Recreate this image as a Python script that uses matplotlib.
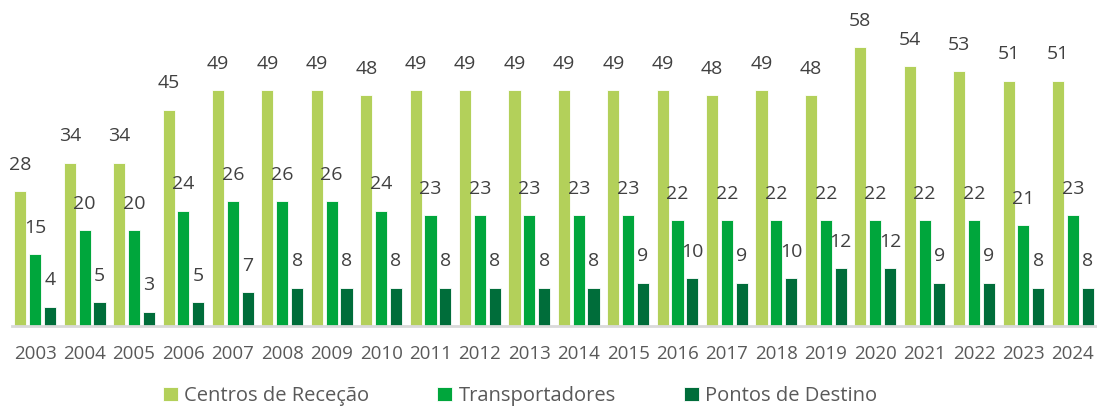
import matplotlib
matplotlib.use('Agg')
import matplotlib.pyplot as plt
import numpy as np

years = [str(y) for y in range(2003, 2025)]
centros = [28, 34, 34, 45, 49, 49, 49, 48, 49, 49, 49, 49, 49, 49, 48, 49, 48, 58, 54, 53, 51, 51]
transportadores = [15, 20, 20, 24, 26, 26, 26, 24, 23, 23, 23, 23, 23, 22, 22, 22, 22, 22, 22, 22, 21, 23]
destino = [4, 5, 3, 5, 7, 8, 8, 8, 8, 8, 8, 8, 9, 10, 9, 10, 12, 12, 9, 9, 8, 8]

series = [
    ('Centros de Receção', centros, '#b3d05a'),
    ('Transportadores', transportadores, '#00a63c'),
    ('Pontos de Destino', destino, '#006d3a'),
]

plt.rcParams['font.family'] = ['Open Sans', 'DejaVu Sans']

fig = plt.figure(figsize=(10.97, 4.07), dpi=100)
ax = fig.add_axes([12 / 1097, 81 / 407, 1 - 12 / 1097, 326 / 407])

x = np.arange(len(years))
width = 0.245
step = 0.30
for i, (name, vals, color) in enumerate(series):
    pos = x + (i - 1) * step
    ax.bar(pos, vals, width, color=color, edgecolor='white', linewidth=0.6, label=name)
    for p, v in zip(pos, vals):
        ax.text(p, v + 3.6, str(v), ha='center', va='bottom', fontsize=14, color='#404040')

ax.set_xlim(-0.47, 21.49)
ax.set_ylim(0, 67.8)
ax.set_xticks(x)
ax.set_xticklabels(years, fontsize=13.5, color='#595959')
ax.tick_params(axis='x', length=0, pad=14)
ax.set_yticks([])
for s in ['top', 'right', 'left']:
    ax.spines[s].set_visible(False)
ax.spines['bottom'].set_color('#d9d9d9')
ax.spines['bottom'].set_linewidth(2)

fig.legend(loc='center', bbox_to_anchor=(520 / 1097, 1 - 396 / 407), ncol=3, frameon=False,
           fontsize=14.5, handlelength=0.75, handleheight=0.75, handletextpad=0.3,
           columnspacing=3.4, labelcolor='#595959')

fig.savefig('out.png', dpi=100)
